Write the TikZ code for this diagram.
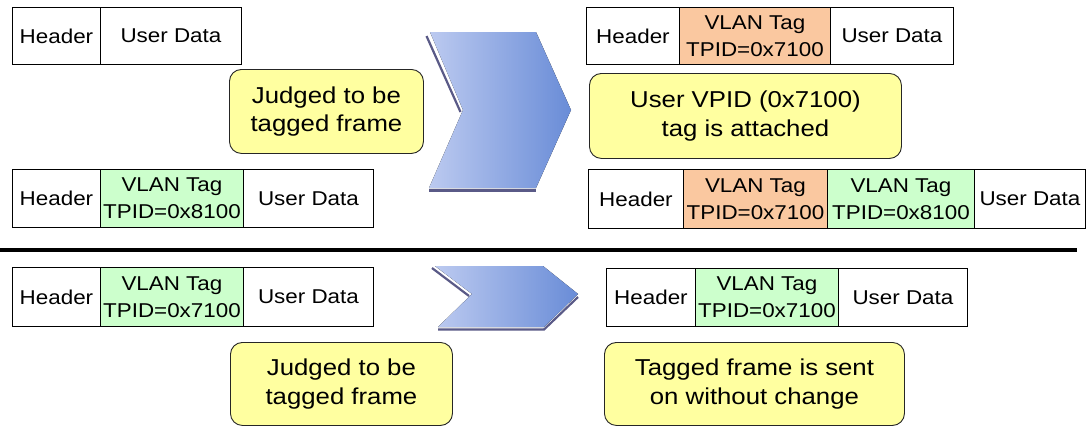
\documentclass[tikz,border=0pt]{standalone}
\usepackage{fontspec}
\setmainfont{Liberation Sans}[FakeStretch=1.12]
\definecolor{tagyellow}{RGB}{255,255,160}
\definecolor{taggreen}{RGB}{204,255,204}
\definecolor{tagorange}{RGB}{250,200,160}
\definecolor{chevlight}{RGB}{188,202,240}
\definecolor{chevdark}{RGB}{105,140,215}
\definecolor{chevshadow}{RGB}{90,90,135}
\tikzset{
  cell/.style={draw=black, line width=0.9pt, inner sep=0pt, anchor=north west,
    align=center, font=\fontsize{20}{27}\selectfont},
  plaincell/.style={cell, fill=white},
  greencell/.style={cell, fill=taggreen},
  orangecell/.style={cell, fill=tagorange},
  callout/.style={draw=black!85, line width=0.9pt, fill=tagyellow, rounded corners=12pt,
    inner sep=0pt, anchor=north west, align=center, font=\fontsize{23}{28.5}\selectfont},
  chevron/.style={left color=chevlight, right color=chevdark, draw=none},
  chevshade/.style={draw=chevshadow, line width=2.2pt}
}
\begin{document}
\begin{tikzpicture}[x=1pt, y=-1pt]
\useasboundingbox (0,0) rectangle (1086,426);
\fill[white] (0,0) rectangle (1086,426);

% Frame A (top-left)
\node[plaincell, minimum width=88pt, minimum height=57pt] (a1) at (12,7) {Header};
\node[plaincell, minimum width=141pt, minimum height=57pt] (a2) at (100,7) {User Data};

% Frame B (left middle)
\node[plaincell, minimum width=88pt, minimum height=58pt] (b1) at (12,169) {Header};
\node[greencell, minimum width=143pt, minimum height=58pt] (b2) at (100,169) {VLAN Tag\\TPID=0x8100};
\node[plaincell, minimum width=130pt, minimum height=58pt] (b3) at (243,169) {User Data};

% Frame C (top-right)
\node[plaincell, minimum width=93pt, minimum height=57pt] (c1) at (586,7) {Header};
\node[orangecell, minimum width=151pt, minimum height=57pt] (c2) at (679,7) {VLAN Tag\\TPID=0x7100};
\node[plaincell, minimum width=123pt, minimum height=57pt] (c3) at (830,7) {User Data};

% Frame D (right middle)
\node[plaincell, minimum width=95pt, minimum height=59pt] (d1) at (588,169) {Header};
\node[orangecell, minimum width=144pt, minimum height=59pt] (d2) at (683,169) {VLAN Tag\\TPID=0x7100};
\node[greencell, minimum width=147pt, minimum height=59pt] (d3) at (827,169) {VLAN Tag\\TPID=0x8100};
\node[plaincell, minimum width=111pt, minimum height=59pt] (d4) at (974,169) {User Data};

% Frame E (bottom-left)
\node[plaincell, minimum width=88pt, minimum height=59pt] (e1) at (12,267) {Header};
\node[greencell, minimum width=143pt, minimum height=59pt] (e2) at (100,267) {VLAN Tag\\TPID=0x7100};
\node[plaincell, minimum width=130pt, minimum height=59pt] (e3) at (243,267) {User Data};

% Frame F (bottom-right)
\node[plaincell, minimum width=89pt, minimum height=58pt] (f1) at (606,268) {Header};
\node[greencell, minimum width=143pt, minimum height=58pt] (f2) at (695,268) {VLAN Tag\\TPID=0x7100};
\node[plaincell, minimum width=129pt, minimum height=58pt] (f3) at (838,268) {User Data};

% Callouts
\node[callout, minimum width=194pt, minimum height=84pt] (k1) at (229,69) {Judged to be\\tagged frame};
\node[callout, minimum width=312pt, minimum height=85pt] (k2) at (589,73) {User VPID (0x7100)\\tag is attached};
\node[callout, minimum width=222pt, minimum height=83pt] (k3) at (230,342) {Judged to be\\tagged frame};
\node[callout, minimum width=300pt, minimum height=83pt] (k4) at (604,342) {Tagged frame is sent\\on without change};

% Separator
\draw[line width=4.5pt, black] (0,250) -- (1077,250);

% Top chevron
\draw[chevshade] (426.5,36) -- (460.5,112);
\draw[chevshade] (429,190.5) -- (536,190.5);
\fill[chevron] (430,32) -- (536,32) -- (571,110) -- (536,188) -- (429,188) -- (463,110) -- cycle;

% Bottom chevron
\draw[chevshade] (432,268) -- (469,296);
\draw[chevshade] (438,329.5) -- (544,329.5) -- (578,297);
\fill[chevron] (435,266) -- (543,266) -- (578,294) -- (544,327) -- (438,327) -- (472,294) -- cycle;
\end{tikzpicture}
\end{document}
